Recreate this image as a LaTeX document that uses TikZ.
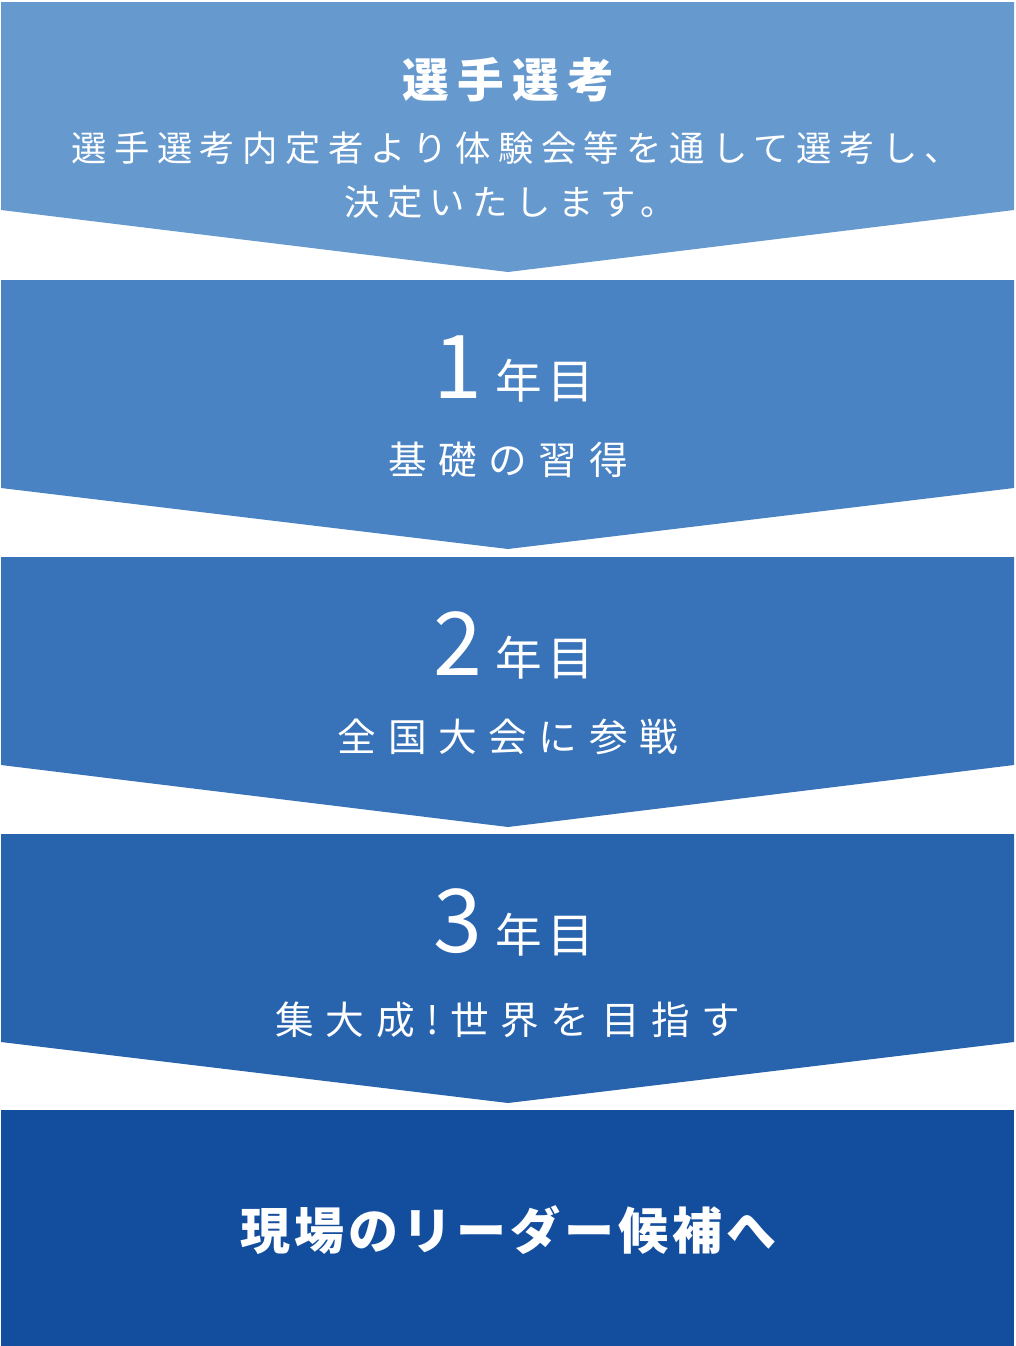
\documentclass[tikz,border=0pt]{standalone}
\usepackage{fontspec}
\setmainfont{Noto Sans CJK JP}
\definecolor{stepone}{RGB}{102,153,206}
\definecolor{steptwo}{RGB}{74,131,195}
\definecolor{stepthree}{RGB}{56,115,185}
\definecolor{stepfour}{RGB}{40,99,174}
\definecolor{stepgoal}{RGB}{19,78,158}
\newcommand{\yearnum}[1]{{\fontsize{66}{66}\selectfont #1}\hspace{10pt}}
\begin{document}
\begin{tikzpicture}[x=0.75pt, y=-0.75pt,
    txt/.style = {text=white, anchor=base, inner sep=0pt},
    head/.style = {txt, font=\fontsize{35}{35}\selectfont\bfseries\addfontfeature{LetterSpace=18}},
    body/.style = {txt, font=\fontsize{26.5}{26.5}\selectfont\addfontfeature{LetterSpace=21}},
    year/.style = {txt, font=\fontsize{35}{35}\selectfont\addfontfeature{LetterSpace=12}},
    goal/.style = {txt, font=\fontsize{29}{29}\selectfont\addfontfeature{LetterSpace=30}},
    last/.style = {txt, font=\fontsize{37.5}{37.5}\selectfont\bfseries\addfontfeature{LetterSpace=8}}]
  \useasboundingbox (0,0) rectangle (1015,1346);
  % chevrons
  \fill[stepone]   (1,2)    -- (1014,2)    -- (1014,210)  -- (508,272)  -- (1,210)  -- cycle;
  \fill[steptwo]   (1,280)  -- (1014,280)  -- (1014,488)  -- (508,549)  -- (1,488)  -- cycle;
  \fill[stepthree] (1,557)  -- (1014,557)  -- (1014,765)  -- (508,827)  -- (1,765)  -- cycle;
  \fill[stepfour]  (1,834)  -- (1014,834)  -- (1014,1042) -- (508,1103) -- (1,1042) -- cycle;
  \fill[stepgoal]  (1,1110) rectangle (1014,1346);
  % selection
  \node[head] (sel) at (508,97) {選手選考};
  \node[body] (sel1) at (516,161) {選手選考内定者より体験会等を通して選考し、};
  \node[body] (sel2) at (510,215) {決定いたします。};
  % years
  \node[year] (y1) at (514,398) {\yearnum{1}年目};
  \node[goal] (g1) at (508,474) {基礎の習得};
  \node[year] (y2) at (514,675) {\yearnum{2}年目};
  \node[goal] (g2) at (508,751) {全国大会に参戦};
  \node[year] (y3) at (514,952) {\yearnum{3}年目};
  \node[goal] (g3) at (508,1034) {集大成!世界を目指す};
  % goal
  \node[last] (lead) at (508,1249) {現場のリーダー候補へ};
\end{tikzpicture}
\end{document}
